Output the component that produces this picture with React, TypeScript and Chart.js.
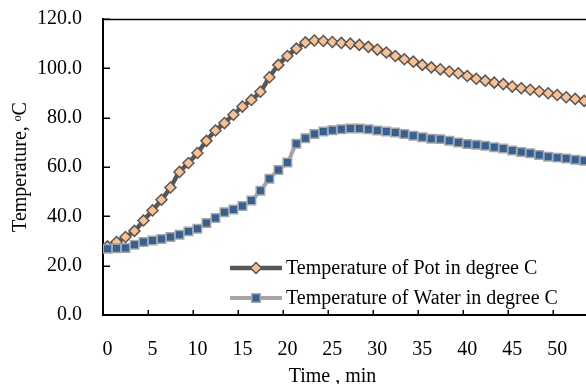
import React, { useEffect, useRef } from 'react';
import { Chart, registerables } from 'chart.js';

Chart.register(...registerables);

const minutes = ['0','1','2','3','4','5','6','7','8','9','10','11','12','13','14','15','16','17','18','19','20','21','22','23','24','25','26','27','28','29','30','31','32','33','34','35','36','37','38','39','40','41','42','43','44','45','46','47','48','49','50','51','52','53'];

const xTickLabels = ['0','5','10','15','20','25','30','35','40','45','50'];

const potTemp = [
  27.8, 29.6, 31.6, 34.1, 38.3, 42.4, 46.7, 51.7, 58.0, 61.6,
  65.7, 70.6, 74.8, 77.8, 81.2, 84.5, 87.2, 90.5, 96.4, 101.4,
  105.0, 108.0, 110.5, 111.3, 111.1, 110.7, 110.3, 110.0, 109.5, 108.7,
  107.6, 106.4, 105.0, 103.7, 102.7, 101.4, 100.4, 99.6, 98.7, 98.0,
  96.9, 95.8, 95.0, 94.2, 93.6, 92.6, 91.9, 91.3, 90.6, 89.9,
  89.2, 88.3, 87.6, 86.8,
];

const waterTemp = [
  26.9, 27.1, 27.2, 28.5, 29.6, 30.2, 30.8, 31.6, 32.5, 33.9,
  35.0, 37.3, 39.3, 41.7, 42.8, 44.2, 46.4, 50.4, 55.2, 58.8,
  61.8, 69.4, 71.7, 73.4, 74.4, 74.9, 75.3, 75.6, 75.6, 75.3,
  74.8, 74.4, 74.0, 73.4, 72.7, 72.1, 71.5, 71.3, 70.6, 69.9,
  69.3, 69.0, 68.6, 68.0, 67.5, 66.7, 66.1, 65.6, 64.9, 64.2,
  63.8, 63.4, 62.9, 62.5,
];

const seriesNames = ['Temperature of Pot in degree C', 'Temperature of Water in degree C'];
const xTitle = 'Time , min';
const yTitle = 'Temperature, ᵒC';

const FONT = '"Liberation Serif", "Times New Roman", serif';
const FONT_SIZE = 20;

const overlayPlugin = {
  id: 'overlay',
  afterDraw(chart: any) {
    const { ctx, chartArea } = chart;
    const xs = chart.scales.x;
    const ys = chart.scales.y;
    ctx.save();
    ctx.strokeStyle = '#000';
    // top border of plot area
    ctx.lineWidth = 1.5;
    ctx.beginPath();
    ctx.moveTo(chartArea.left, chartArea.top + 0.5);
    ctx.lineTo(chartArea.right, chartArea.top + 0.5);
    ctx.stroke();

    // inward tick marks on y axis
    ctx.lineWidth = 1.5;
    ys.ticks.forEach((t: any) => {
      const py = Math.round(ys.getPixelForValue(t.value)) + 0.25;
      ctx.beginPath();
      ctx.moveTo(chartArea.left, py);
      ctx.lineTo(chartArea.left + 7, py);
      ctx.stroke();
    });
    // inward tick marks on x axis, between categories
    xTickLabels.forEach((lab) => {
      const v = Number(lab) - 0.5;
      if (v <= xs.min) return;
      const px = Math.round(xs.getPixelForValue(v)) + 0.25;
      ctx.beginPath();
      ctx.moveTo(px, chartArea.bottom);
      ctx.lineTo(px, chartArea.bottom - 5);
      ctx.stroke();
    });

    ctx.font = `${FONT_SIZE}px ${FONT}`;
    ctx.fillStyle = '#000';

    // x axis title
    ctx.textAlign = 'center';
    ctx.textBaseline = 'middle';
    ctx.fillText(xTitle, chartArea.left + 229.5, chartArea.bottom + 62);

    // legend inside plot area
    const datasets = chart.data.datasets;
    const lx1 = chartArea.left + 127;
    const lx2 = chartArea.left + 179;
    const mx = (lx1 + lx2) / 2;
    const tx = chartArea.left + 183;
    const rows = [chartArea.bottom - 47, chartArea.bottom - 17];
    datasets.forEach((ds: any, k: number) => {
      const y = rows[k];
      ctx.strokeStyle = ds.borderColor;
      ctx.lineWidth = ds.borderWidth;
      ctx.beginPath();
      ctx.moveTo(lx1, y);
      ctx.lineTo(lx2, y);
      ctx.stroke();
      const r = ds.pointRadius;
      ctx.fillStyle = ds.pointBackgroundColor;
      ctx.strokeStyle = ds.pointBorderColor;
      ctx.lineWidth = ds.pointBorderWidth;
      ctx.beginPath();
      if (ds.pointStyle === 'rectRot') {
        ctx.moveTo(mx - r, y);
        ctx.lineTo(mx, y - r);
        ctx.lineTo(mx + r, y);
        ctx.lineTo(mx, y + r);
        ctx.closePath();
      } else {
        const s = Math.SQRT1_2 * r;
        ctx.rect(mx - s, y - s, 2 * s, 2 * s);
      }
      ctx.fill();
      ctx.stroke();
      ctx.fillStyle = '#000';
      ctx.textAlign = 'left';
      ctx.textBaseline = 'middle';
      ctx.fillText(ds.label, tx, y + 1);
    });
    ctx.restore();
  },
};

export default function App() {
  const ref = useRef<HTMLCanvasElement | null>(null);

  useEffect(() => {
    document.body.style.margin = '0';
    const canvas = ref.current;
    if (!canvas) return;
    const chart = new Chart(canvas, {
      type: 'line',
      data: {
        labels: minutes,
        datasets: [
          {
            label: seriesNames[0],
            data: potTemp,
            borderColor: '#575757',
            borderWidth: 4.5,
            pointStyle: 'rectRot',
            pointRadius: 5.5,
            pointBackgroundColor: '#FAC090',
            pointBorderColor: '#575757',
            pointBorderWidth: 1.5,
            tension: 0.3,
            order: 1,
          },
          {
            label: seriesNames[1],
            data: waterTemp,
            borderColor: '#A6A6A6',
            borderWidth: 4,
            pointStyle: 'rect',
            pointRadius: 6,
            pointBackgroundColor: '#336196',
            pointBorderColor: '#A6A6A6',
            pointBorderWidth: 1.5,
            tension: 0.3,
            order: 0,
          },
        ],
      },
      options: {
        animation: false,
        responsive: true,
        maintainAspectRatio: false,
        layout: { autoPadding: false, padding: { top: 19, right: 0, left: 0, bottom: 0 } },
        plugins: {
          legend: { display: false },
          tooltip: { enabled: false },
        },
        scales: {
          x: {
            type: 'linear',
            min: -0.5,
            max: 53.2,
            afterFit: (s: any) => { s.height = 69; s.paddingRight = 0; },
            afterBuildTicks: (s: any) => {
              s.ticks = xTickLabels.map((l) => ({ value: Number(l) })).concat([{ value: 60 }]);
            },
            border: { color: '#000', width: 2 },
            grid: {
              drawOnChartArea: false,
              tickLength: 23,
              tickColor: 'rgba(0,0,0,0)',
            },
            ticks: {
              autoSkip: false,
              maxRotation: 0,
              padding: 0,
              color: '#000',
              font: { family: FONT, size: FONT_SIZE },
              callback: (v: any) => (xTickLabels.includes(String(v)) ? String(v) : ''),
            },
            title: { display: false },
          },
          y: {
            min: 0,
            max: 120,
            afterFit: (s: any) => { s.width = 103; },
            border: { color: '#000', width: 2 },
            grid: {
              drawOnChartArea: false,
              tickLength: 21,
              tickColor: 'rgba(0,0,0,0)',
            },
            ticks: {
              stepSize: 20,
              padding: 0,
              color: '#000',
              font: { family: FONT, size: FONT_SIZE },
              callback: (v: any) => Number(v).toFixed(1),
            },
            title: {
              display: true,
              text: yTitle,
              color: '#000',
              font: { family: FONT, size: FONT_SIZE },
              padding: { top: 9, bottom: 0 },
            },
          },
        },
      },
      plugins: [overlayPlugin],
    });
    return () => chart.destroy();
  }, []);

  return (
    <div style={{ position: 'fixed', left: 0, top: 0, width: 586, height: 384 }}>
      <canvas ref={ref} />
    </div>
  );
}
